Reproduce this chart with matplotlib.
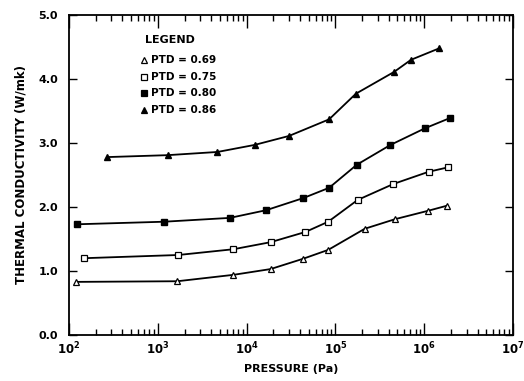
import numpy as np
import matplotlib
matplotlib.use('Agg')
import matplotlib.pyplot as plt
from matplotlib.ticker import LogLocator, FixedLocator, FuncFormatter

plt.rcParams['font.family'] = ['DejaVu Sans']
plt.rcParams['font.weight'] = 'bold'
plt.rcParams['mathtext.default'] = 'bf'

# PTD = 0.69 (open triangles)
p069 = [120, 1660, 7100, 18600, 43000, 83000, 214000, 470000, 1.1e6, 1.8e6]
k069 = [0.83, 0.84, 0.94, 1.03, 1.19, 1.33, 1.66, 1.81, 1.94, 2.02]
# PTD = 0.75 (open squares)
p075 = [148, 1700, 7100, 18600, 46000, 83000, 178000, 450000, 1.12e6, 1.86e6]
k075 = [1.20, 1.25, 1.34, 1.45, 1.61, 1.77, 2.11, 2.36, 2.55, 2.62]
# PTD = 0.80 (filled squares)
p080 = [123, 1180, 6500, 16600, 43600, 85000, 174000, 417000, 1.02e6, 1.95e6]
k080 = [1.73, 1.77, 1.83, 1.95, 2.14, 2.30, 2.66, 2.97, 3.23, 3.39]
# PTD = 0.86 (filled triangles)
p086 = [270, 1290, 4700, 12300, 30000, 85000, 170000, 457000, 710000, 1.48e6]
k086 = [2.78, 2.81, 2.86, 2.97, 3.11, 3.37, 3.77, 4.11, 4.30, 4.48]

legend_labels = ['PTD = 0.69', 'PTD = 0.75', 'PTD = 0.80', 'PTD = 0.86']

fig = plt.figure(figsize=(5.24, 3.81), dpi=100)
ax = fig.add_axes([69/524, 1 - 335/381, (513-69)/524, (335-15)/381])

ms = 4.5
ax.plot(p069, k069, '-', color='black', lw=1.3, marker='^', ms=ms, mfc='white', mec='black', mew=0.9)
ax.plot(p075, k075, '-', color='black', lw=1.3, marker='s', ms=ms, mfc='white', mec='black', mew=0.9)
ax.plot(p080, k080, '-', color='black', lw=1.3, marker='s', ms=ms, mfc='black', mec='black')
ax.plot(p086, k086, '-', color='black', lw=1.3, marker='^', ms=ms, mfc='black', mec='black')

ax.set_xscale('log')
ax.set_xlim(1e2, 1e7)
ax.set_ylim(0, 5)

ax.xaxis.set_major_locator(LogLocator(base=10, numticks=10))
ax.xaxis.set_minor_locator(LogLocator(base=10, subs=np.arange(2, 10), numticks=20))
ax.xaxis.set_major_formatter(FuncFormatter(lambda v, p: r'$\mathbf{10^{%d}}$' % round(np.log10(v))))
ax.yaxis.set_major_locator(FixedLocator([0, 1, 2, 3, 4, 5]))
ax.yaxis.set_major_formatter(FuncFormatter(lambda v, p: '%.1f' % v))

ax.tick_params(axis='both', which='both', direction='in', top=True, right=True, labelsize=8)
ax.tick_params(axis='x', which='major', length=9, width=1, pad=4, labelsize=8.5)
ax.tick_params(axis='x', which='minor', length=4.5, width=1)
ax.tick_params(axis='y', which='major', length=6, width=1, pad=8)
for s in ax.spines.values():
    s.set_linewidth(1.3)

ax.set_xlabel('PRESSURE (Pa)', fontsize=8, fontweight='bold', labelpad=5)
ax.set_ylabel('THERMAL CONDUCTIVITY (W/mk)', fontsize=8.5, fontweight='bold', labelpad=8)

# legend drawn as text
fig.text(145/524, 1 - 40/381, 'LEGEND', fontsize=8, fontweight='bold', va='center')
markers = [('^', 'white'), ('s', 'white'), ('s', 'black'), ('^', 'black')]
for i, (lab, (m, fc)) in enumerate(zip(legend_labels, markers)):
    yy = 1 - (60 + i * 16.7) / 381
    fig.lines.append(plt.Line2D([144/524], [yy], marker=m, ms=4, mfc=fc, mec='black', mew=0.9,
                                transform=fig.transFigure))
    fig.text(151/524, yy, lab, fontsize=7.5, fontweight='bold', va='center')

fig.savefig('out.png', dpi=100)
